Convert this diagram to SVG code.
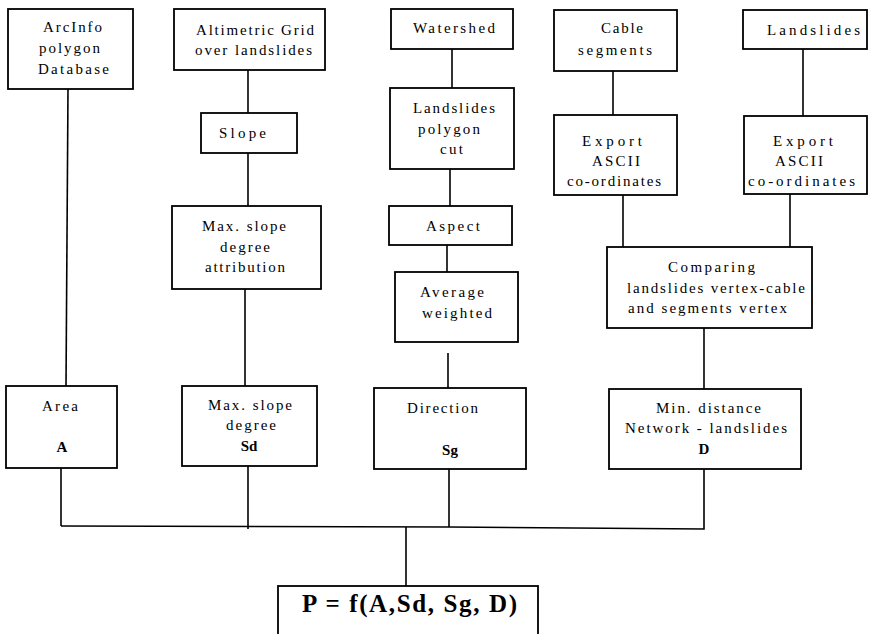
<svg xmlns="http://www.w3.org/2000/svg" width="869" height="634" viewBox="0 0 869 634">
<style>
.box{fill:#fff;stroke:#000;stroke-width:1.8}
.ln{fill:none;stroke:#000;stroke-width:1.6}
text{font-family:"Liberation Serif","Times New Roman",serif;font-size:15px;fill:#000}
.b{font-weight:bold;font-size:15px;text-anchor:middle}
.f{font-weight:bold;font-size:25px}
</style>
<rect width="869" height="634" fill="#fff"/>
<g id="connectors">
<line class="ln" x1="68" y1="89" x2="66" y2="386"/>
<line class="ln" x1="248" y1="70" x2="248" y2="113"/>
<line class="ln" x1="248" y1="153" x2="248" y2="206"/>
<line class="ln" x1="245" y1="289" x2="245" y2="386"/>
<line class="ln" x1="452" y1="49" x2="452" y2="88"/>
<line class="ln" x1="450" y1="169" x2="450" y2="206"/>
<line class="ln" x1="447" y1="245" x2="447" y2="272"/>
<line class="ln" x1="448" y1="353" x2="448" y2="388"/>
<line class="ln" x1="613" y1="71" x2="613" y2="115"/>
<line class="ln" x1="803" y1="49" x2="803" y2="116"/>
<line class="ln" x1="623" y1="195" x2="623" y2="247"/>
<line class="ln" x1="790" y1="194" x2="790" y2="247"/>
<line class="ln" x1="704" y1="328" x2="704" y2="389"/>
<line class="ln" x1="61" y1="468" x2="61" y2="526"/>
<line class="ln" x1="248" y1="466" x2="248" y2="529"/>
<line class="ln" x1="449" y1="469" x2="449" y2="527"/>
<polyline class="ln" points="704,469 704,529 449,527 61,526"/>
<line class="ln" x1="406" y1="527" x2="406" y2="586"/>
</g>
<g id="arcinfo"><rect class="box" x="8" y="9" width="125" height="80"/>
<text x="43" y="32" textLength="59" lengthAdjust="spacing">ArcInfo</text>
<text x="39" y="53" textLength="61" lengthAdjust="spacing">polygon</text>
<text x="38" y="74" textLength="71" lengthAdjust="spacing">Database</text></g>
<g id="altimetric"><rect class="box" x="174" y="9" width="151" height="61"/>
<text x="196" y="35" textLength="118" lengthAdjust="spacing">Altimetric Grid</text>
<text x="195" y="55" textLength="117" lengthAdjust="spacing">over landslides</text></g>
<g id="slope"><rect class="box" x="201" y="113" width="96" height="40"/>
<text x="219" y="138" textLength="47" lengthAdjust="spacing">Slope</text></g>
<g id="maxslopeattr"><rect class="box" x="172" y="206" width="149" height="83"/>
<text x="202" y="231" textLength="84" lengthAdjust="spacing">Max. slope</text>
<text x="220" y="252" textLength="50" lengthAdjust="spacing">degree</text>
<text x="205" y="272" textLength="80" lengthAdjust="spacing">attribution</text></g>
<g id="watershed"><rect class="box" x="391" y="9" width="122" height="40"/>
<text x="413" y="33" textLength="82" lengthAdjust="spacing">Watershed</text></g>
<g id="landslidespoly"><rect class="box" x="390" y="88" width="124" height="81"/>
<text x="413" y="113" textLength="82" lengthAdjust="spacing">Landslides</text>
<text x="418" y="134" textLength="62" lengthAdjust="spacing">polygon</text>
<text x="440" y="154" textLength="23" lengthAdjust="spacing">cut</text></g>
<g id="aspect"><rect class="box" x="389" y="206" width="123" height="39"/>
<text x="426" y="231" textLength="54" lengthAdjust="spacing">Aspect</text></g>
<g id="average"><rect class="box" x="395" y="272" width="123" height="70"/>
<text x="420" y="297" textLength="64" lengthAdjust="spacing">Average</text>
<text x="422" y="318" textLength="70" lengthAdjust="spacing">weighted</text></g>
<g id="cable"><rect class="box" x="554" y="10" width="123" height="61"/>
<text x="601" y="33" textLength="42" lengthAdjust="spacing">Cable</text>
<text x="578" y="55" textLength="74" lengthAdjust="spacing">segments</text></g>
<g id="exportL"><rect class="box" x="554" y="115" width="123" height="80"/>
<text x="582" y="146" textLength="60" lengthAdjust="spacing">Export</text>
<text x="592" y="166" textLength="48" lengthAdjust="spacing">ASCII</text>
<text x="567" y="186" textLength="94" lengthAdjust="spacing">co-ordinates</text></g>
<g id="landslidesR"><rect class="box" x="743" y="10" width="124" height="39"/>
<text x="767" y="35" textLength="93" lengthAdjust="spacing">Landslides</text></g>
<g id="exportR"><rect class="box" x="744" y="116" width="123" height="78"/>
<text x="773" y="146" textLength="60" lengthAdjust="spacing">Export</text>
<text x="775" y="166" textLength="48" lengthAdjust="spacing">ASCII</text>
<text x="748" y="186" textLength="107" lengthAdjust="spacing">co-ordinates</text></g>
<g id="comparing"><rect class="box" x="607" y="247" width="205" height="81"/>
<text x="668" y="272" textLength="87" lengthAdjust="spacing">Comparing</text>
<text x="627" y="293" textLength="178" lengthAdjust="spacing">landslides vertex-cable</text>
<text x="628" y="313" textLength="159" lengthAdjust="spacing">and segments vertex</text></g>
<g id="area"><rect class="box" x="6" y="386" width="111" height="82"/>
<text x="42" y="411" textLength="36" lengthAdjust="spacing">Area</text>
<text class="b" x="62" y="452">A</text></g>
<g id="maxslopedeg"><rect class="box" x="182" y="386" width="135" height="80"/>
<text x="208" y="410" textLength="84" lengthAdjust="spacing">Max. slope</text>
<text x="226" y="430" textLength="50" lengthAdjust="spacing">degree</text>
<text class="b" x="249" y="451">Sd</text></g>
<g id="direction"><rect class="box" x="374" y="388" width="152" height="81"/>
<text x="407" y="413" textLength="71" lengthAdjust="spacing">Direction</text>
<text class="b" x="450" y="455">Sg</text></g>
<g id="mindist"><rect class="box" x="609" y="389" width="192" height="80"/>
<text x="656" y="413" textLength="105" lengthAdjust="spacing">Min. distance</text>
<text x="625" y="433" textLength="162" lengthAdjust="spacing">Network - landslides</text>
<text class="b" x="704" y="454">D</text></g>
<g id="formula"><rect class="box" x="278" y="586" width="260" height="60"/>
<text class="f" x="302" y="612" textLength="215" lengthAdjust="spacing">P = f(A,Sd, Sg, D)</text></g>
</svg>
